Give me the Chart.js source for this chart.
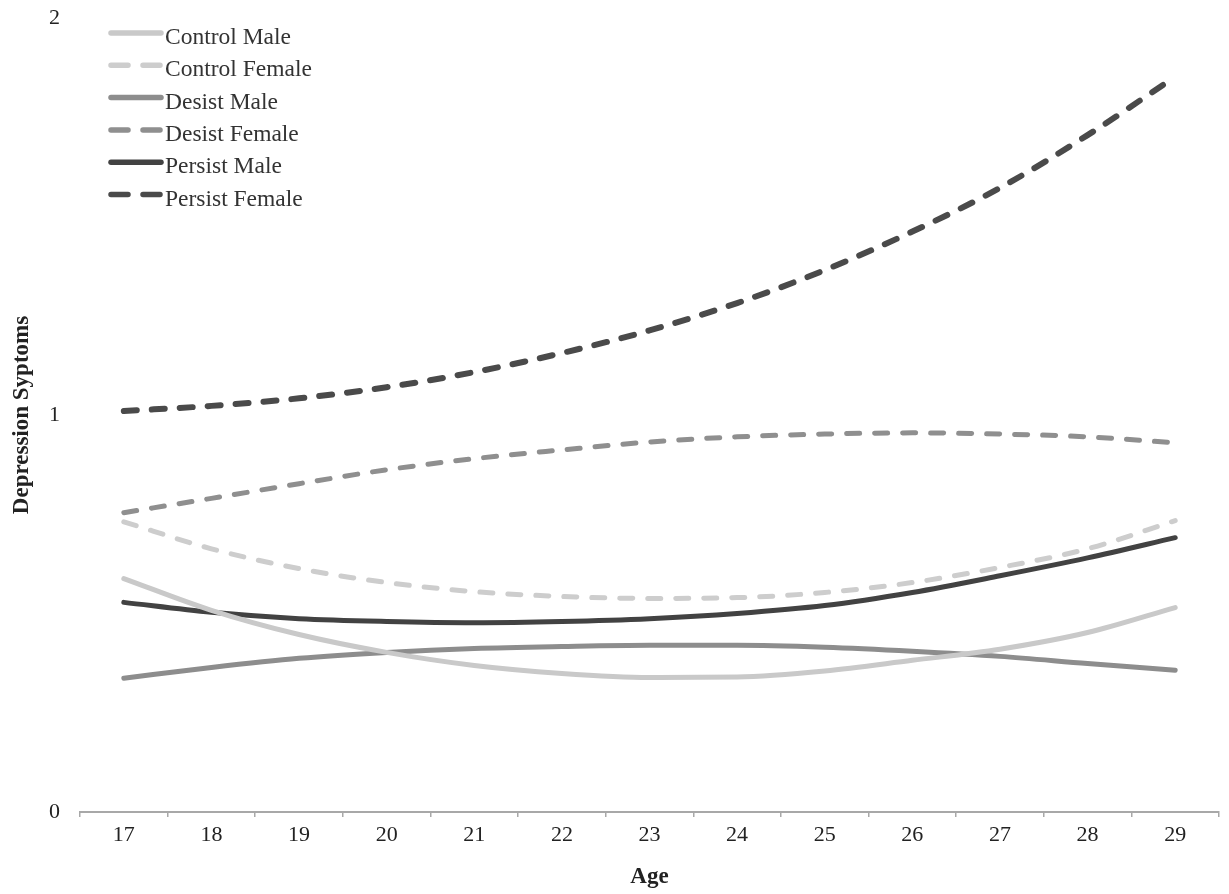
<!DOCTYPE html>
<html>
<head>
<meta charset="utf-8">
<script src="https://cdn.jsdelivr.net/npm/chart.js@4/dist/chart.umd.min.js"></script>
<style>
  html, body { margin: 0; padding: 0; background: #fff; }
  #wrap { width: 1229px; height: 894px; }
</style>
</head>
<body>
<div id="wrap"><canvas id="grafico"></canvas></div>
<script>
// Datos
const edades = ['17', '18', '19', '20', '21', '22', '23', '24', '25', '26', '27', '28', '29'];
const yTicks = [0, 1, 2];

const controlMale    = [0.588, 0.508, 0.447, 0.402, 0.369, 0.349, 0.339, 0.340, 0.355, 0.382, 0.410, 0.452, 0.515];
const controlFemale  = [0.731, 0.663, 0.613, 0.578, 0.555, 0.543, 0.538, 0.540, 0.553, 0.578, 0.616, 0.663, 0.734];
const desistMale     = [0.337, 0.364, 0.387, 0.402, 0.412, 0.417, 0.420, 0.420, 0.415, 0.405, 0.392, 0.374, 0.357];
const desistFemale   = [0.754, 0.790, 0.827, 0.862, 0.890, 0.912, 0.932, 0.945, 0.952, 0.955, 0.952, 0.945, 0.930];
const persistMale    = [0.528, 0.503, 0.487, 0.480, 0.477, 0.480, 0.487, 0.500, 0.520, 0.553, 0.595, 0.640, 0.691];
const persistFemale  = [1.010, 1.023, 1.042, 1.070, 1.108, 1.156, 1.213, 1.282, 1.365, 1.462, 1.572, 1.705, 1.852];

const fuente = '"Liberation Serif", "Times New Roman", serif';

function serie(label, data, color, dashed, width) {
    return {
        label: label,
        data: data,
        borderColor: color,
        backgroundColor: color,
        borderWidth: width,
        borderDash: dashed ? [13, 15] : [],
        borderCapStyle: 'round',
        pointRadius: 0,
        tension: 0.4,
        cubicInterpolationMode: 'monotone',
        fill: false
    };
}

// Leyenda dibujada dentro del area del grafico, arriba a la izquierda
const leyendaInterna = {
    id: 'leyendaInterna',
    afterDraw(chart) {
        const ctx = chart.ctx;
        const area = chart.chartArea;
        const x0 = area.left + 28;
        let y = area.top + 15;
        ctx.save();
        ctx.font = '23.5px ' + fuente;
        ctx.textBaseline = 'middle';
        chart.data.datasets.forEach(ds => {
            ctx.strokeStyle = ds.borderColor;
            ctx.lineWidth = 5.5;
            ctx.lineCap = 'round';
            ctx.setLineDash(ds.borderDash.length ? [17, 15] : []);
            ctx.beginPath();
            ctx.moveTo(x0 + 3, y);
            ctx.lineTo(x0 + 53, y);
            ctx.stroke();
            ctx.setLineDash([]);
            ctx.fillStyle = '#333';
            ctx.fillText(ds.label, x0 + 57, y + 5);
            y += 32.3;
        });
        ctx.restore();
    }
};

const ctx = document.getElementById('grafico').getContext('2d');
new Chart(ctx, {
    type: 'line',
    data: {
        labels: edades,
        datasets: [
            serie('Control Male', controlMale, '#c9c9c9', false, 5),
            serie('Control Female', controlFemale, '#cdcdcd', true, 5),
            serie('Desist Male', desistMale, '#8d8d8d', false, 5),
            serie('Desist Female', desistFemale, '#8f8f8f', true, 5),
            serie('Persist Male', persistMale, '#424242', false, 5),
            serie('Persist Female', persistFemale, '#4a4a4a', true, 6)
        ]
    },
    options: {
        responsive: true,
        maintainAspectRatio: false,
        animation: false,
        layout: { padding: { top: 18, right: 10, bottom: 0, left: 0 } },
        plugins: {
            legend: { display: false },
            tooltip: { enabled: false }
        },
        scales: {
            x: {
                offset: true,
                grid: { offset: true, drawOnChartArea: false, drawTicks: true, tickLength: 5, color: '#a8a8a8', lineWidth: 1.5 },
                border: { display: true, color: '#a8a8a8', width: 2 },
                ticks: { color: '#222', font: { family: fuente, size: 22 }, padding: 5, maxRotation: 0 },
                title: { display: true, text: 'Age', color: '#222', font: { family: fuente, size: 23, weight: 'bold' }, padding: { top: 6, bottom: 3 } },
                afterFit(scale) { scale.height = 82; }
            },
            y: {
                min: 0,
                max: 2,
                afterBuildTicks(scale) { scale.ticks = yTicks.map(v => ({ value: v })); },
                grid: { display: false, drawTicks: false },
                border: { display: false },
                ticks: { color: '#222', font: { family: fuente, size: 22 }, padding: 20 },
                title: { display: true, text: 'Depression Syptoms', color: '#222', font: { family: fuente, size: 23, weight: 'bold' }, padding: { top: 8, bottom: 0 } },
                afterFit(scale) {
                    scale.width = 80;
                    scale.paddingTop = 0;
                    scale.paddingBottom = 0;
                }
            }
        }
    },
    plugins: [leyendaInterna]
});
</script>
</body>
</html>
